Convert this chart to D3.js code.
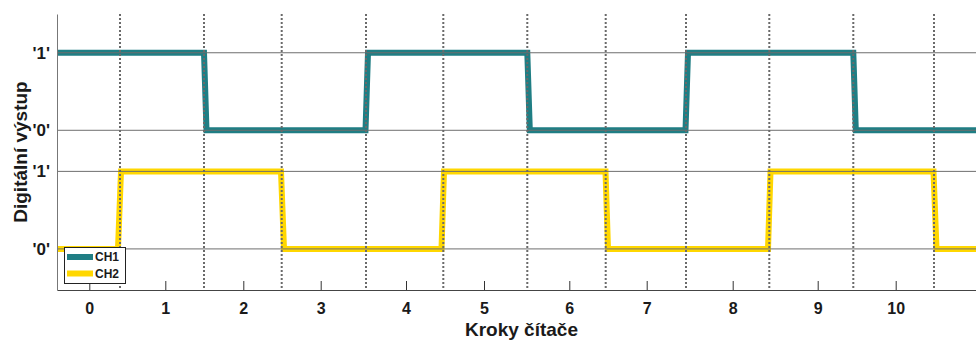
<!DOCTYPE html>
<html>
<head>
<meta charset="utf-8">
<script src="https://cdn.jsdelivr.net/npm/d3@7"></script>
<style>
  html, body { margin: 0; padding: 0; background: #fff; }
  svg { display: block; }
  text { font-family: "Liberation Sans", Arial, Helvetica, sans-serif; font-weight: bold; fill: #1a1a1a; }
</style>
</head>
<body>
<svg id="chart" width="976" height="340"></svg>
<script>
// ---- data (time in arbitrary units, value 0/1 per channel) ----
const ch1Time  = [0, 14.70, 14.95, 30.85, 31.10, 47.03, 47.28, 62.85, 63.10, 79.63, 79.88, 93.0];
const ch1Value = [1, 1, 0, 0, 1, 1, 0, 0, 1, 1, 0, 0];
const ch2Time  = [0, 6.10, 6.40, 22.40, 22.70, 38.45, 38.70, 54.85, 55.10, 71.10, 71.35, 87.65, 87.95, 93.0];
const ch2Value = [0, 0, 1, 1, 0, 0, 1, 1, 0, 0, 1, 1, 0, 0];
const ch1Offset = 1.53;               // vertical offset of CH1 trace
const clockEdges = [6.30, 14.70, 22.47, 30.90, 38.63, 47.03, 54.87, 62.90, 71.23, 79.63, 87.70];
const stepTickPos = [3.23, 10.83, 18.63, 26.37, 34.90, 42.70, 51.23, 58.97, 67.57, 76.07, 83.87];
const stepTickLabels = ["0","1","2","3","4","5","6","7","8","9","10"];
const yTickValues = [0, 1, 1.53, 2.53];
const yTickLabels = ["'0'", "'1'", "'0'", "'1'"];
const seriesNames = ["CH1", "CH2"];
const seriesColors = ["#1f7e84", "#ffd700"];

// ---- layout ----
const svg = d3.select("#chart");
const mLeft = 57, mRight = 986, mTop = 14, mBottom = 290;

const x = d3.scaleLinear().domain([0, 92.9]).range([mLeft, mRight]);
const y = d3.scaleLinear().domain([-0.53, 3.03]).range([mBottom, mTop]);

svg.append("defs").append("clipPath").attr("id", "plotclip")
  .append("rect").attr("x", mLeft).attr("y", mTop).attr("width", mRight - mLeft).attr("height", mBottom - mTop);

const plot = svg.append("g").attr("clip-path", "url(#plotclip)");

const line = d3.line().x(d => x(d[0])).y(d => y(d[1]));
const ch1 = ch1Time.map((t, i) => [t, ch1Value[i] + ch1Offset]);
const ch2 = ch2Time.map((t, i) => [t, ch2Value[i]]);

plot.append("path").datum(ch2).attr("d", line)
  .attr("fill", "none").attr("stroke", seriesColors[1]).attr("stroke-width", 6)
  .attr("stroke-linejoin", "miter");
plot.append("path").datum(ch1).attr("d", line)
  .attr("fill", "none").attr("stroke", seriesColors[0]).attr("stroke-width", 6)
  .attr("stroke-linejoin", "miter");

// horizontal grid at y ticks
plot.selectAll(".hgrid").data(yTickValues).enter().append("line")
  .attr("x1", mLeft).attr("x2", mRight)
  .attr("y1", d => y(d)).attr("y2", d => y(d))
  .attr("stroke", "#6e6e6e").attr("stroke-width", 1);

// dotted clock edges
plot.selectAll(".edge").data(clockEdges).enter().append("line")
  .attr("x1", d => x(d)).attr("x2", d => x(d))
  .attr("y1", mTop).attr("y2", mBottom)
  .attr("stroke", "#6a6a6a").attr("stroke-width", 2)
  .attr("stroke-dasharray", "2,2");

// x axis
const xAxis = d3.axisBottom(x)
  .tickValues(stepTickPos)
  .tickFormat((d, i) => stepTickLabels[i])
  .tickSizeInner(-9).tickSizeOuter(0).tickPadding(13);
const gx = svg.append("g").attr("transform", `translate(0,${mBottom})`).call(xAxis);
gx.select(".domain").attr("stroke", "#444").attr("stroke-width", 1);
gx.selectAll(".tick line").attr("stroke", "#333");
gx.selectAll(".tick text").style("font-size", "16px").attr("fill", "#1a1a1a");

// y axis
const yAxis = d3.axisLeft(y)
  .tickValues(yTickValues)
  .tickFormat((d, i) => yTickLabels[i])
  .tickSize(0).tickPadding(7);
const gy = svg.append("g").attr("transform", `translate(${mLeft},0)`).call(yAxis);
gy.select(".domain").attr("stroke", "#777").attr("stroke-width", 1);
gy.selectAll(".tick text").style("font-size", "17px").attr("fill", "#1a1a1a");

// axis titles
svg.append("text").attr("x", (mLeft + mRight) / 2).attr("y", 336)
  .attr("text-anchor", "middle").style("font-size", "19px").text("Kroky čítače");
svg.append("text").attr("transform", `translate(27,${(mTop + mBottom) / 2}) rotate(-90)`)
  .attr("text-anchor", "middle").style("font-size", "19px").text("Digitální výstup");

// legend
const lg = svg.append("g").attr("transform", "translate(64,247)");
lg.append("rect").attr("x", 0.5).attr("y", 0.5).attr("width", 61).attr("height", 36)
  .attr("fill", "#fff").attr("stroke", "#222").attr("stroke-width", 1);
seriesNames.forEach((name, i) => {
  const yy = 10 + i * 16.5;
  lg.append("line").attr("x1", 3).attr("x2", 29).attr("y1", yy).attr("y2", yy)
    .attr("stroke", seriesColors[i]).attr("stroke-width", 6);
  lg.append("text").attr("x", 31).attr("y", yy).attr("dy", "0.36em")
    .style("font-size", "12px").text(name);
});
</script>
</body>
</html>
